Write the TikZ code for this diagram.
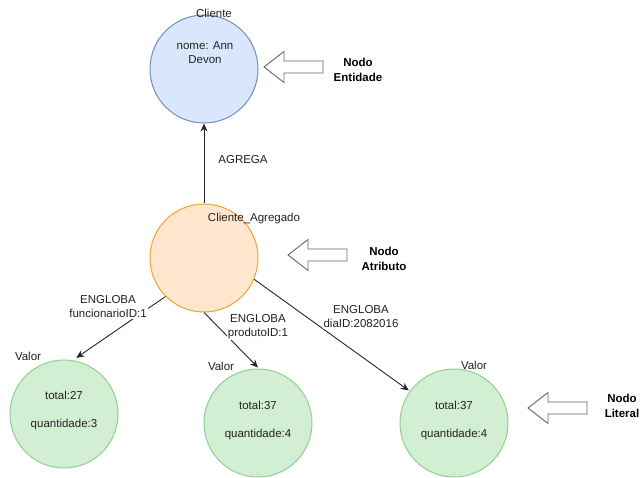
\documentclass[tikz,border=0pt]{standalone}
\usepackage{fontspec}
\setmainfont{Liberation Sans}
\usetikzlibrary{arrows.meta}
\definecolor{entfill}{HTML}{DAE6FC}
\definecolor{entline}{HTML}{6C8EBF}
\definecolor{attfill}{HTML}{FFE6CC}
\definecolor{attline}{HTML}{E8A730}
\definecolor{litfill}{HTML}{D3EFD3}
\definecolor{litline}{HTML}{8FD08F}
\definecolor{txt}{HTML}{222222}
\definecolor{blk}{HTML}{666666}
\begin{document}
\begin{tikzpicture}[x=1pt,y=-1pt,
  every node/.style={font=\fontsize{11.5}{14}\selectfont, text=txt},
  ball/.style={circle, minimum size=108pt, inner sep=0pt, line width=1pt},
  entity/.style={ball, draw=entline, fill=entfill},
  attrib/.style={ball, draw=attline, fill=attfill},
  literal/.style={ball, draw=litline, fill=litfill},
  tag/.style={inner sep=1pt},
  inner/.style={align=center, inner sep=1pt},
  edgelab/.style={align=center, inner sep=1pt, fill=white},
  note/.style={align=center, font=\bfseries\fontsize{11.5}{15}\selectfont, text=black},
  rel/.style={-{Stealth[length=8pt,width=7pt]}, line width=0.9pt, draw=black!85},
  pics/blockarrow/.style={code={
    \draw[draw=blk, fill=white, line width=0.9pt, line join=miter]
      (0,0) -- (20,-15.5) -- (20,-6) -- (59,-6) -- (59,6) -- (20,6) -- (20,15.5) -- cycle;
  }}]
\useasboundingbox (0,0) rectangle (644,478);

% entity node
\node[entity] (cli) at (204,69) {};
\node[tag] (cliname) at (214,13) {Cliente};
\node[inner] (clival) at (205,53) {nome: Ann\\Devon};

% attribute node
\node[attrib] (agg) at (204,258) {};
\node[tag] (aggname) at (254,219) {Cliente\_Agregado};

% literal nodes
\node[literal] (v1) at (64,414) {};
\node[literal] (v2) at (258,423) {};
\node[literal] (v3) at (454,423) {};
\node[tag] (v1name) at (28,356) {Valor};
\node[tag] (v2name) at (221,366) {Valor};
\node[tag] (v3name) at (474,365) {Valor};
\node[inner] (v1a) at (64,395) {total:27};
\node[inner] (v1b) at (64,425) {quantidade:3};
\node[inner] (v2a) at (258,405) {total:37};
\node[inner] (v2b) at (258,435) {quantidade:4};
\node[inner] (v3a) at (454,405) {total:37};
\node[inner] (v3b) at (454,435) {quantidade:4};

% relations
\draw[rel] (agg.north) -- (cli.south);
\node[tag] (agrega) at (243,160) {AGREGA};
\draw[rel] (agg.225) -- ([shift={(0pt,3pt)}]v1.77);
\draw[rel] (agg.south) -- ([shift={(0pt,1pt)}]v2.north);
\draw[rel] (agg.-23) -- ([shift={(0pt,2pt)}]v3.146);
\node[edgelab] (e1) at (108,307) {ENGLOBA\\funcionarioID:1};
\node[edgelab] (e2) at (258,327) {ENGLOBA\\produtoID:1};
\node[edgelab] (e3) at (361,317) {ENGLOBA\\diaID:2082016};

% legend arrows and captions
\pic at (264,67) {blockarrow};
\node[note] (nent) at (358,70) {Nodo\\Entidade};
\pic at (288,255) {blockarrow};
\node[note] (natt) at (384,259) {Nodo\\Atributo};
\pic at (528,408) {blockarrow};
\node[note] (nlit) at (622,406) {Nodo\\Literal};
\end{tikzpicture}
\end{document}
